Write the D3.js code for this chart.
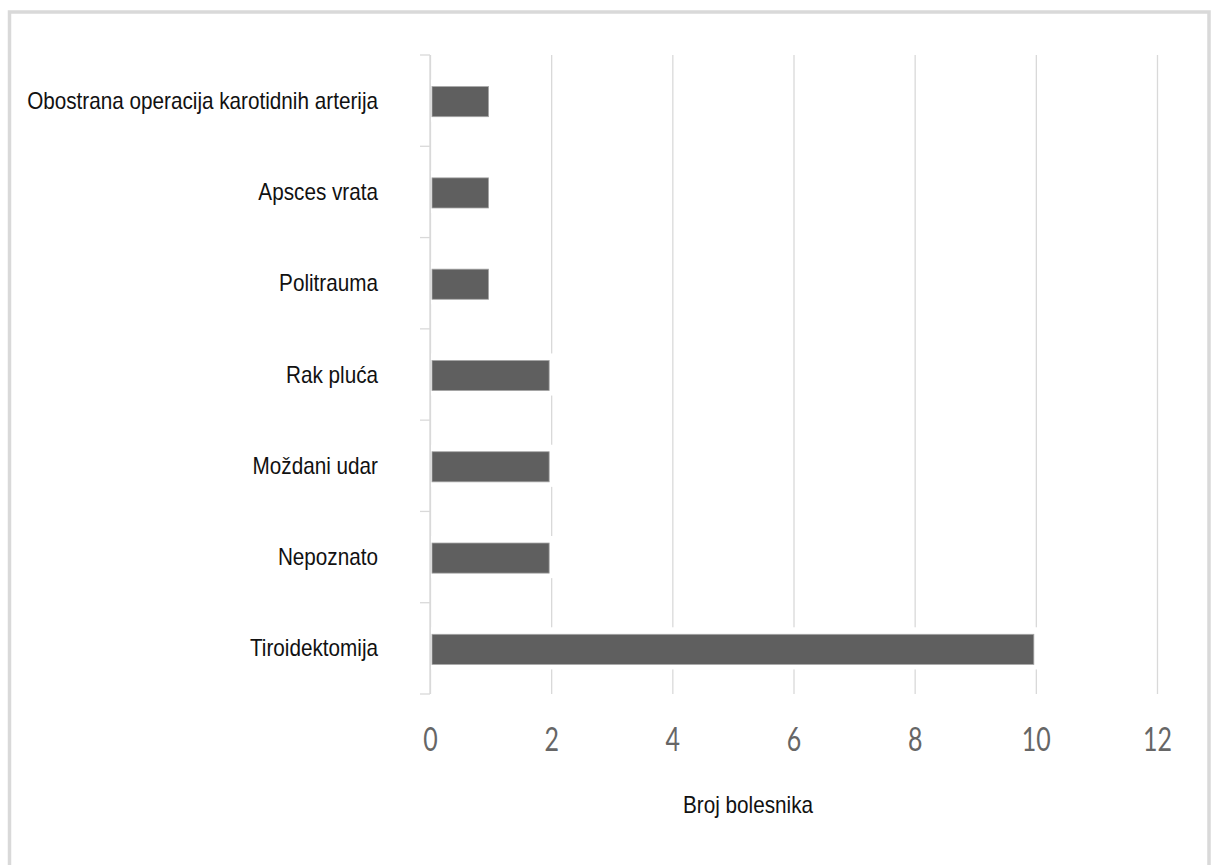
<!DOCTYPE html>
<html>
<head>
<meta charset="utf-8">
<script src="https://cdn.jsdelivr.net/npm/d3@7.9.0/dist/d3.min.js"></script>
<style>
  body { margin: 0; background: #fff; }
  svg { display: block; }
</style>
</head>
<body>
<svg id="chart" width="1212" height="865"></svg>
<script>
// data, top to bottom as in the chart
const categories = [
  "Obostrana operacija karotidnih arterija",
  "Apsces vrata",
  "Politrauma",
  "Rak pluća",
  "Moždani udar",
  "Nepoznato",
  "Tiroidektomija"
];
const values = [1, 1, 1, 2, 2, 2, 10];
const xTicks = [0, 2, 4, 6, 8, 10, 12];
const axisTitle = "Broj bolesnika";

const svg = d3.select("#chart");

const plot = { left: 430, right: 1157, top: 55, bottom: 694 };

// outer frame
svg.append("rect")
  .attr("x", 9.5).attr("y", 12)
  .attr("width", 1199.5).attr("height", 900)
  .attr("fill", "none")
  .attr("stroke", "#d9d9d9")
  .attr("stroke-width", 3.5);

const x = d3.scaleLinear().domain([0, 12]).range([plot.left, plot.right]);
const y = d3.scaleBand()
  .domain(categories)
  .range([plot.top, plot.bottom])
  .paddingInner(0.67)
  .paddingOuter(0.335);

// vertical gridlines + tick labels
const xAxis = svg.append("g")
  .attr("transform", `translate(0,${plot.bottom})`)
  .call(d3.axisBottom(x).tickValues(xTicks).tickSize(-(plot.bottom - plot.top)).tickPadding(0));
xAxis.select(".domain").remove();
xAxis.selectAll(".tick line").attr("stroke", "#d9d9d9").attr("stroke-width", 1.3);
xAxis.selectAll(".tick text")
  .attr("y", 57)
  .attr("dy", null)
  .attr("transform", "scale(0.78,1)")
  .attr("fill", "#666")
  .style("font-family", "Lato, 'Open Sans', sans-serif")
  .style("font-weight", 400)
  .style("font-size", "32px");

// category axis: line and boundary ticks
svg.append("line")
  .attr("x1", plot.left).attr("x2", plot.left)
  .attr("y1", plot.top).attr("y2", plot.bottom)
  .attr("stroke", "#d9d9d9").attr("stroke-width", 1.3);
const bounds = d3.range(categories.length + 1).map(i => plot.top + i * y.step());
svg.append("g").selectAll("line").data(bounds).join("line")
  .attr("x1", plot.left - 10).attr("x2", plot.left)
  .attr("y1", d => d).attr("y2", d => d)
  .attr("stroke", "#d9d9d9").attr("stroke-width", 1.3);

// bars (with white halo that breaks the gridlines)
const rows = categories.map((c, i) => ({ cat: c, val: values[i] }));
svg.append("g").selectAll("rect").data(rows).join("rect")
  .attr("x", plot.left + 1)
  .attr("y", d => y(d.cat) - 6)
  .attr("width", d => x(d.val) - plot.left + 4)
  .attr("height", y.bandwidth() + 12)
  .attr("fill", "#fff");
svg.append("g").selectAll("rect").data(rows).join("rect")
  .attr("x", plot.left + 2)
  .attr("y", d => y(d.cat) + 1)
  .attr("width", d => x(d.val) - plot.left - 4)
  .attr("height", y.bandwidth())
  .attr("fill", "#5f5f5f")
  .attr("stroke", "#a6a6a6")
  .attr("stroke-width", 0.8);

// category labels
svg.append("g").selectAll("text").data(rows).join("text")
  .attr("transform", d => `translate(378,${y(d.cat) + y.bandwidth() / 2 + 8}) scale(0.9,1)`)
  .attr("text-anchor", "end")
  .attr("fill", "#111")
  .style("font-family", "'Liberation Sans', Arial, sans-serif")
  .style("font-size", "23px")
  .text(d => d.cat);

// axis title
svg.append("text")
  .attr("transform", "translate(748,813) scale(0.9,1)")
  .attr("text-anchor", "middle")
  .attr("fill", "#111")
  .style("font-family", "'Liberation Sans', Arial, sans-serif")
  .style("font-size", "23px")
  .text(axisTitle);
</script>
</body>
</html>
